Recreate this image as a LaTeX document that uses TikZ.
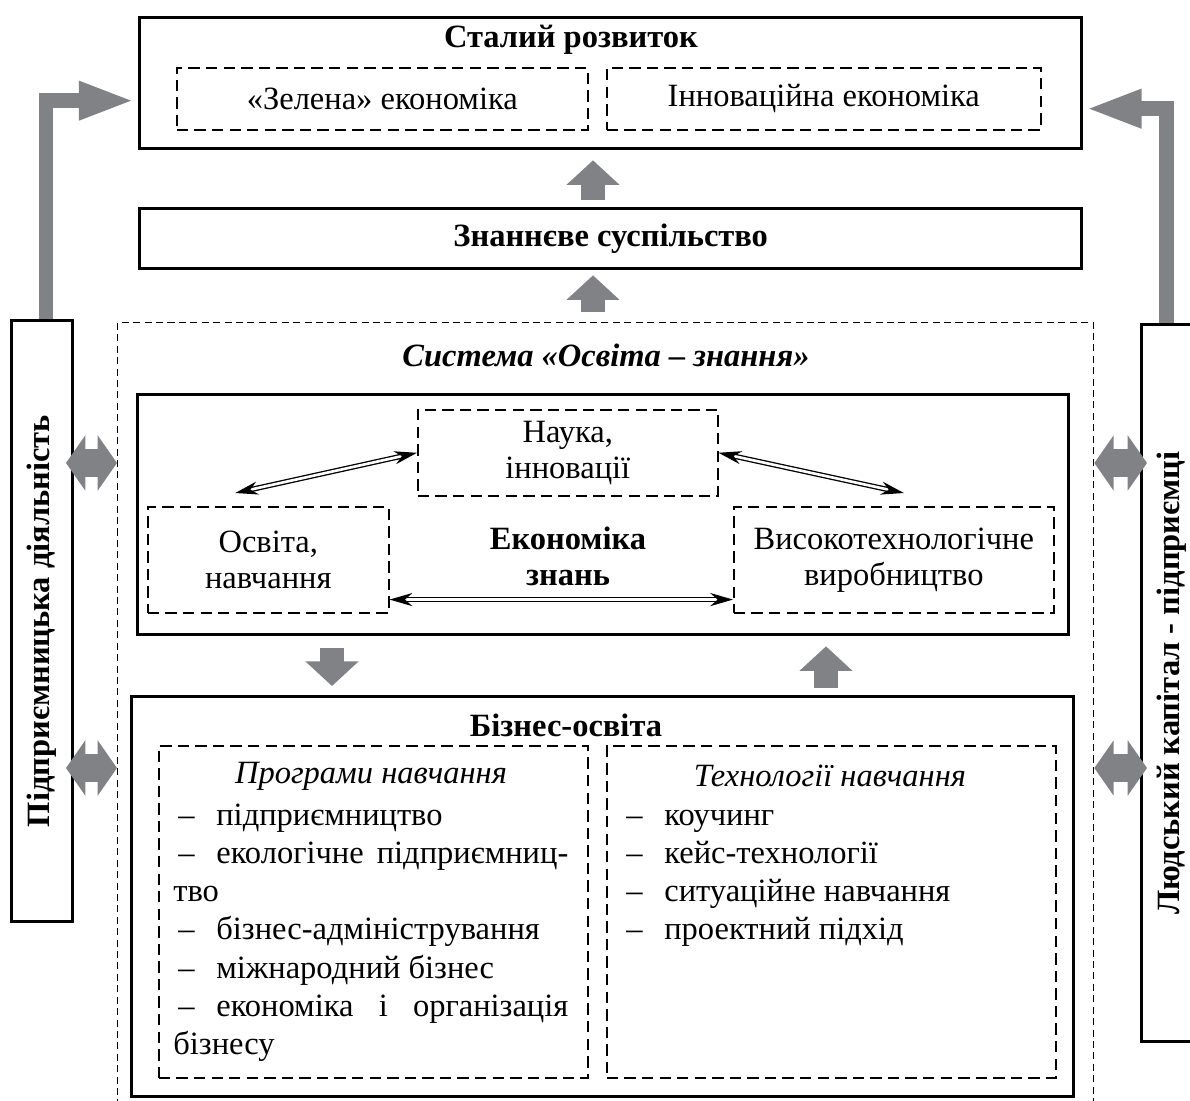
\documentclass[tikz,border=0pt]{standalone}
\usepackage{fontspec}
\setmainfont{Liberation Serif}
\usetikzlibrary{arrows.meta,calc}
\definecolor{arrowgray}{RGB}{128,130,134}
\newlength\pxu
\setlength\pxu{0.02cm}
\newcommand{\sizefont}{\fontsize{18.5}{20.5}\selectfont}
\newcommand{\itm}{\hspace*{5\pxu}\makebox[38\pxu][l]{–}}

\begin{document}
\begin{tikzpicture}[x=0.02cm, y=-0.02cm, font=\sizefont,
    block/.style={rectangle, draw, line width=1.9pt, anchor=north west, inner sep=0pt},
    dashbox/.style={rectangle, draw, line width=0.9pt, dash pattern=on 6.5pt off 3.5pt, anchor=north west, align=center, inner sep=0pt},
    sysbox/.style={rectangle, draw, line width=0.75pt, dash pattern=on 4pt off 2.5pt, anchor=north west, inner sep=0pt},
    fatarrow/.style={draw=arrowgray, line width=14pt, -{Triangle[length=14pt, width=29.5pt]}},
    sidearrow/.style={draw=arrowgray, line width=16pt, {Triangle[length=11pt, width=31pt]}-{Triangle[length=11pt, width=31pt]}},
    bentarrow/.style={draw=arrowgray, line width=8.5pt, -{Triangle[length=32pt, width=20pt]}},
    dblarrow/.style={draw=black, double=white, double distance=1.5pt, line width=0.75pt, {Stealth[length=13pt, width=7.5pt]}-{Stealth[length=13pt, width=7.5pt]}}
]
\useasboundingbox (0,0) rectangle (1190,1101);

% Top blocks
\node[block, minimum width=942\pxu, minimum height=131\pxu] (sustain) at (138,16) {};
\node[font=\sizefont\bfseries] (sustainTitle) at (571,40) {Сталий розвиток};
\node[dashbox, minimum width=411\pxu, minimum height=62\pxu] (greenEcon) at (176,67) {«Зелена» економіка};
\node[dashbox, minimum width=434\pxu, minimum height=62\pxu] (innovEcon) at (606,67) {Інноваційна економіка};
\node[block, minimum width=942\pxu, minimum height=60\pxu, font=\sizefont\bfseries] (knowSoc) at (138,207) {Знаннєве суспільство};

% System
\node[sysbox, minimum width=976\pxu, minimum height=800\pxu] (system) at (117,322) {};
\node[font=\sizefont\bfseries\itshape] (systemTitle) at (606,355) {Система «Освіта – знання»};

% Knowledge economy
\node[block, minimum width=931\pxu, minimum height=240\pxu] (knowEcon) at (136,393) {};
\node[dashbox, minimum width=300\pxu, minimum height=86\pxu] (science) at (417,409) {Наука,\\інновації};
\node[dashbox, minimum width=241\pxu, minimum height=106\pxu] (educ) at (147,506) {Освіта,\\навчання};
\node[dashbox, minimum width=320\pxu, minimum height=106\pxu] (hitech) at (733,506) {Високотехнологічне\\виробництво};
\node[font=\sizefont\bfseries, align=center] (econTitle) at (568,556) {Економіка\\знань};

% Business education
\node[block, minimum width=942\pxu, minimum height=400\pxu] (business) at (130,695) {};
\node[font=\sizefont\bfseries] (businessTitle) at (566,725) {Бізнес-освіта};
\node[dashbox, minimum width=429\pxu, minimum height=332\pxu] (programs) at (158,745) {};
\node[dashbox, minimum width=449\pxu, minimum height=332\pxu] (techs) at (606,745) {};
\node[font=\sizefont\itshape] (programsTitle) at (371,776) {Програми навчання};
\node[font=\sizefont\itshape] (techsTitle) at (830,776) {Технології навчання};
\foreach \t [count=\i] in {\itm підприємництво,
    {\makebox[395\pxu][s]{\itm екологічне підприємниц-}}, тво,
    \itm бізнес-адміністрування, \itm міжнародний бізнес,
    {\makebox[395\pxu][s]{\itm економіка і організація}}, бізнесу}
  \node[anchor=base west, inner sep=0pt] (prog\i) at (173,{825+38.3*(\i-1)}) {\t};
\foreach \t [count=\i] in {коучинг, кейс-технології, ситуаційне навчання, проектний підхід}
  \node[anchor=base west, inner sep=0pt] (tech\i) at (621,{825+38.3*(\i-1)}) {\itm \t};

% Side blocks
\node[block, line width=1.7pt, minimum width=61\pxu, minimum height=601\pxu] (entre) at (10,319) {};
\node[rotate=90, font=\sizefont\bfseries] (entreText) at (entre.center) {Підприємницька діяльність};
\node[block, line width=1.7pt, minimum width=60\pxu, minimum height=717\pxu] (human) at (1140,323) {};
\node[rotate=90, font=\sizefont\bfseries] (humanText) at (human.center) {Людський капітал - підприємці};

% Arrows
\coordinate (midCol) at (593,0);
\coordinate (downCol) at (332,0);
\coordinate (upCol) at (826,0);
\coordinate (rowA) at (0,463);
\coordinate (rowB) at (0,768);

\draw[fatarrow, shorten <=7\pxu, shorten >=10\pxu] (knowSoc.north -| midCol) -- (sustain.south -| midCol);
\draw[fatarrow, shorten <=10\pxu, shorten >=5\pxu] (system.north -| midCol) -- (knowSoc.south -| midCol);
\draw[fatarrow, shorten <=12\pxu, shorten >=9\pxu] (knowEcon.south -| downCol) -- (business.north -| downCol);
\draw[fatarrow, shorten <=7\pxu, shorten >=10\pxu] (business.north -| upCol) -- (knowEcon.south -| upCol);

\draw[bentarrow] ($(entre.north)+(4,0)$) |- ($(sustain.west)+(-3,17.5)$);
\draw[bentarrow] ($(human.north)+(-5,0)$) |- ($(sustain.east)+(2,25.5)$);

\foreach \r in {rowA, rowB} {
  \draw[sidearrow] ($(entre.east |- \r)+(-8,0)$) -- (system.west |- \r);
  \draw[sidearrow] (system.east |- \r) -- ($(human.west |- \r)+(7,0)$);
}

\draw[dblarrow] (science.west) -- ($(educ.north)+(-33,-13)$);
\draw[dblarrow] (science.east) -- ($(hitech.north)+(10,-13)$);
\draw[dblarrow] ($(educ.south east)+(0,-14)$) -- ($(hitech.south west)+(0,-14)$);

\end{tikzpicture}
\end{document}
